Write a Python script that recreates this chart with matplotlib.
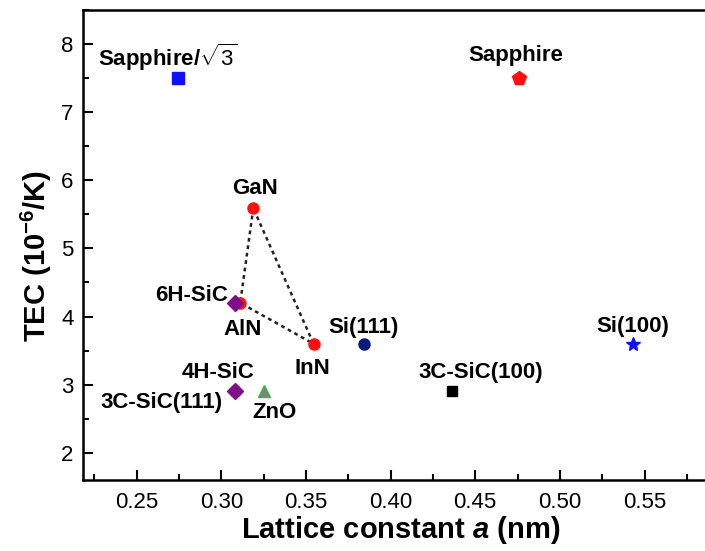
import numpy as np
import matplotlib
matplotlib.use("Agg")
import matplotlib.pyplot as plt
from matplotlib.ticker import MultipleLocator

plt.rcParams['font.family'] = ['Liberation Sans', 'DejaVu Sans']
plt.rcParams['mathtext.fontset'] = 'custom'
plt.rcParams['mathtext.rm'] = 'Liberation Sans:bold'
plt.rcParams['mathtext.it'] = 'Liberation Sans:bold:italic'
plt.rcParams['mathtext.sf'] = 'Liberation Sans'

# lattice constant a (nm) and thermal expansion coefficient (1e-6/K)
materials = ['Sapphire/√3', 'Sapphire', 'GaN', 'AlN', '6H-SiC', 'InN',
             'Si(111)', 'Si(100)', '3C-SiC(100)', '3C-SiC(111)', '4H-SiC', 'ZnO']
lattice_a = [0.2747, 0.4758, 0.3189, 0.3112, 0.3081, 0.3545,
             0.3840, 0.5431, 0.4360, 0.3083, 0.3081, 0.3250]
tec = [7.5, 7.5, 5.59, 4.2, 4.2, 3.6,
       3.59, 3.59, 2.9, 2.9, 2.9, 2.9]

marker_style = {
    'Sapphire/√3': ('s', '#1010ff', 8),
    'Sapphire':    ('p', '#ff1010', 10),
    'GaN':         ('o', '#ff1010', 8),
    'AlN':         ('o', '#ff1010', 8),
    '6H-SiC':      ('D', '#80108a', 8),
    'InN':         ('o', '#ff1010', 8),
    'Si(111)':     ('o', '#0a1a80', 8),
    'Si(100)':     ('*', '#1010ff', 10),
    '3C-SiC(100)': ('s', '#000000', 7),
    '3C-SiC(111)': ('o', '#ff1010', 8),
    '4H-SiC':      ('D', '#80108a', 8),
    'ZnO':         ('^', '#808080', 8),
}

# label text and offset (points) from the marker
labels = {
    'Sapphire/√3': (r'Sapphire/$\mathsf{\sqrt{3}}$', -8, 15),
    'Sapphire':    ('Sapphire', -2, 16),
    'GaN':         ('GaN', 1, 14),
    'AlN':         ('AlN', 2, -19),
    '6H-SiC':      ('6H-SiC', -31, 5),
    'InN':         ('InN', -1, -18),
    'Si(111)':     ('Si(111)', 0, 12),
    'Si(100)':     ('Si(100)', 0, 13),
    '3C-SiC(100)': ('3C-SiC(100)', 21, 14),
    '3C-SiC(111)': ('3C-SiC(111)', -53, -8),
    '4H-SiC':      ('4H-SiC', -12, 14),
    'ZnO':         ('ZnO', 8, -15),
}

fig = plt.figure(figsize=(7.05, 5.51), dpi=100)
ax = fig.add_axes([83.3 / 705, 71 / 551, 1 - 83.3 / 705, 470 / 551])

# GaN-AlN-InN triangle
tri = ['GaN', 'AlN', 'InN', 'GaN']
tx = [lattice_a[materials.index(m)] for m in tri]
ty = [tec[materials.index(m)] for m in tri]
ax.plot(tx, ty, color='#222222', lw=1.8, ls=(0, (1.5, 1.5)), zorder=1)

for name, a, t in zip(materials, lattice_a, tec):
    mk, col, ms = marker_style[name]
    ec = '#30c030' if name == 'ZnO' else col
    ax.plot(a, t, marker=mk, color=col, mec=ec, ms=ms, ls='none', zorder=3)
    txt, dx, dy = labels[name]
    ax.annotate(txt, (a, t), xytext=(dx, dy), textcoords='offset points',
                ha='center', va='center', fontsize=16, fontweight='bold', zorder=4)

ax.set_xlim(0.2185, 0.5857)
ax.set_ylim(1.6, 8.5)
ax.xaxis.set_major_locator(MultipleLocator(0.05))
ax.xaxis.set_minor_locator(MultipleLocator(0.025))
ax.yaxis.set_major_locator(MultipleLocator(1))
ax.yaxis.set_minor_locator(MultipleLocator(0.5))
ax.xaxis.set_major_formatter(lambda v, p: f'{v:.2f}')

ax.tick_params(which='both', direction='in', width=1.5, labelsize=16, pad=7)
ax.tick_params(which='major', length=7)
ax.tick_params(which='minor', length=4)
ax.tick_params(axis='x', pad=9)
for side in ['left', 'bottom', 'top']:
    ax.spines[side].set_linewidth(1.8)
ax.spines['right'].set_visible(False)

fig.text(401 / 705, 1 - 530 / 551, 'Lattice constant $a$ (nm)', ha='center', va='center',
         fontsize=21, fontweight='bold')
fig.text(36 / 705, 1 - 256 / 551, 'TEC (10$^{-6}$/K)', ha='center', va='center',
         rotation=90, fontsize=21, fontweight='bold')

fig.savefig('out.png', dpi=100)
